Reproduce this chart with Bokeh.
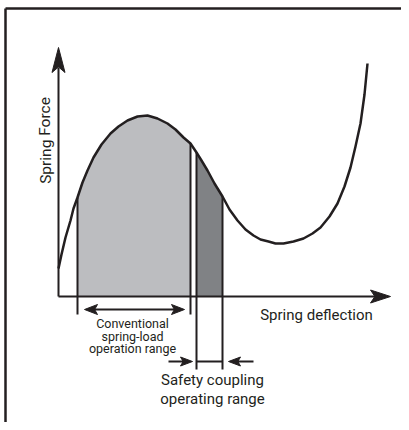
from bokeh.plotting import figure
from bokeh.models import Range1d
from bokeh.core.properties import value
from bokeh.embed import file_html
from bokeh.resources import INLINE

# ---- data (deflection, force in drawing units; origin at axes corner) ----
curve_defl = [0, 3, 7, 12, 15, 19, 24, 29, 35, 43, 52, 60, 69, 79, 89, 99, 109, 117,
              125, 132, 138, 143, 149, 156, 164, 171, 179, 187, 195, 202, 210, 217,
              225, 235, 245, 254, 262, 271, 279, 286, 292, 297, 302, 306, 309]
curve_force = [28, 42, 59, 76, 88, 99, 114, 126, 139, 152, 163, 170, 176, 180, 181, 178,
               173, 167, 159, 153, 144, 136, 126, 113, 100, 87, 76, 67, 61, 57, 55, 53,
               53, 55, 58, 63, 69, 80, 93, 110, 129, 150, 173, 202, 233]

conv_range = (19, 132)      # conventional spring-load operation range
safety_range = (138, 164)   # safety coupling operating range

x_axis_end = 332
y_axis_end = 249

label_x = "Spring deflection"
label_y = "Spring Force"
conv_label = ["Conventional", "spring-load", "operation range"]
safety_label = ["Safety coupling", "operating range"]

INK = "#231f20"
LIGHT = "#bcbdc0"
DARK = "#808285"
FONT = "Roboto"

W, H = 401, 422
p = figure(width=W, height=H, output_backend="svg", toolbar_location=None,
           x_range=Range1d(-58, W - 58), y_range=Range1d(296 - H, 296),
           min_border=0, outline_line_color=None)
p.axis.visible = False
p.grid.visible = False
p.background_fill_color = "white"


def dart(tx, ty, dx, dy, length, width):
    # arrow head with concave back, tip at (tx, ty), pointing in (dx, dy)
    nx, ny = -dy, dx
    bx, by = tx - dx * length, ty - dy * length
    nxb, nyb = tx - dx * length * 0.78, ty - dy * length * 0.78
    xs = [tx, bx + nx * width / 2, nxb, bx - nx * width / 2]
    ys = [ty, by + ny * width / 2, nyb, by - ny * width / 2]
    return xs, ys


# frame (top and left border)
p.line([-53, W - 58], [288, 288], line_color=INK, line_width=2.5)
p.line([-53, -53], [288, 296 - H], line_color=INK, line_width=2.5)

# shaded regions under the curve
def region(lo, hi):
    xs = [x for x in curve_defl if lo <= x <= hi]
    ys = [curve_force[curve_defl.index(x)] for x in xs]
    return xs, ys

cx, cy = region(*conv_range)
p.varea(x=cx, y1=[0] * len(cx), y2=cy, fill_color=LIGHT)
sx, sy = region(*safety_range)
p.varea(x=sx, y1=[0] * len(sx), y2=sy, fill_color=DARK)

# vertical boundary lines
conv_bottom = -18
safety_bottom = -73
for xv, lo in [(conv_range[0], conv_bottom), (conv_range[1], conv_bottom),
               (safety_range[0], safety_bottom), (safety_range[1], safety_bottom)]:
    top = curve_force[curve_defl.index(xv)]
    p.line([xv, xv], [lo, top], line_color=INK, line_width=2)

# curve
p.line(curve_defl, curve_force, line_color=INK, line_width=2.5, line_join="round")

# axes with arrow heads
p.line([0, 0], [0, y_axis_end - 20], line_color=INK, line_width=2)
p.line([0, x_axis_end - 15], [0, 0], line_color=INK, line_width=2)
hx, hy = dart(0, y_axis_end, 0, 1, 25, 13)
p.patch(hx, hy, fill_color=INK, line_color=INK)
hx, hy = dart(x_axis_end, 0, 1, 0, 20, 13)
p.patch(hx, hy, fill_color=INK, line_color=INK)

# conventional range double arrow
ya = -13
a0, a1 = conv_range[0] + 7, conv_range[1] - 6
p.line([a0 + 8, a1 - 8], [ya, ya], line_color=INK, line_width=2)
for tx, d in [(a0, -1), (a1, 1)]:
    hx, hy = dart(tx, ya, d, 0, 13, 10)
    p.patch(hx, hy, fill_color=INK, line_color=INK)

# safety range bracket and arrows
yb = -65
p.line([safety_range[0], safety_range[1]], [yb, yb], line_color=INK, line_width=2)
p.line([safety_range[0] - 28, safety_range[0] - 10], [yb, yb], line_color=INK, line_width=2)
hx, hy = dart(safety_range[0] - 4, yb, 1, 0, 12, 9)
p.patch(hx, hy, fill_color=INK, line_color=INK)
p.line([safety_range[1] + 10, safety_range[1] + 31], [yb, yb], line_color=INK, line_width=2)
hx, hy = dart(safety_range[1] + 6, yb, -1, 0, 12, 9)
p.patch(hx, hy, fill_color=INK, line_color=INK)

# labels
p.text(x=[258], y=[-18], text=[label_x], text_align="center", text_baseline="middle",
       text_font=value(FONT), text_font_size="15px", text_color=INK)
p.text(x=[-13], y=[156], text=[label_y], angle=1.5708, text_align="center",
       text_baseline="middle", text_font=value(FONT), text_font_size="15.5px",
       text_color=INK)
p.text(x=[74] * 3, y=[-27, -40, -52], text=conv_label, text_align="center",
       text_baseline="middle", text_font=value(FONT), text_font_size="12.5px",
       text_color=INK)
p.text(x=[154] * 2, y=[-83, -102], text=safety_label, text_align="center",
       text_baseline="middle", text_font=value(FONT), text_font_size="15px",
       text_color=INK)

open("out.html", "w").write(file_html(p, INLINE))
